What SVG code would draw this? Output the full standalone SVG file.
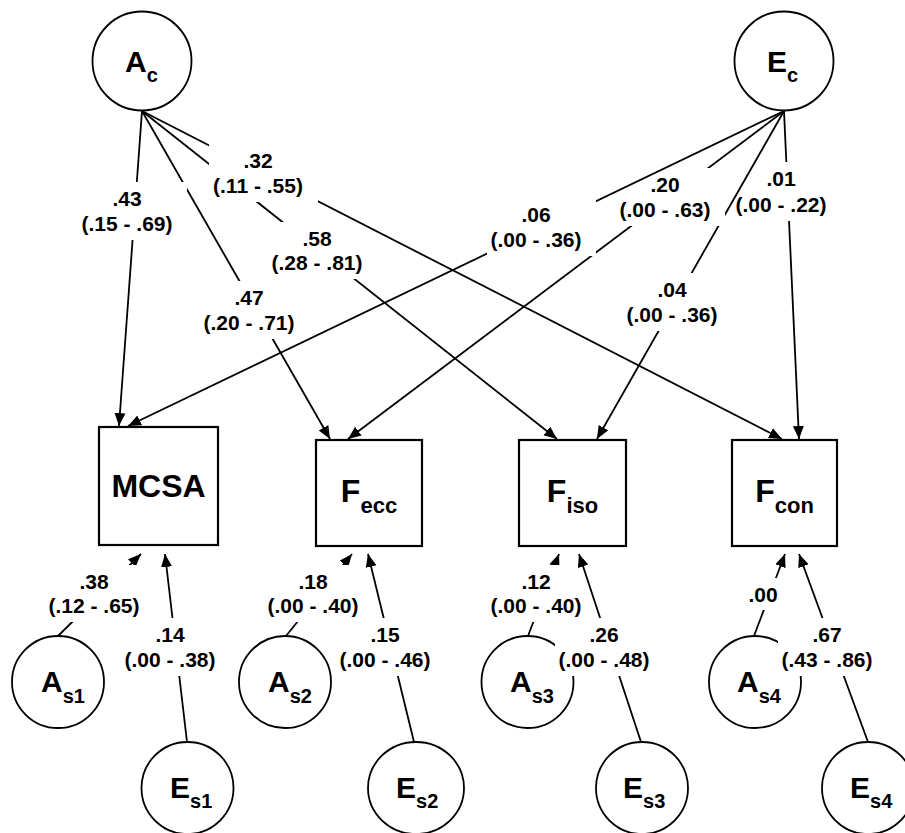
<svg xmlns="http://www.w3.org/2000/svg" width="905" height="833" viewBox="0 0 905 833">
<style>
.nd{fill:#fff;stroke:#000;stroke-width:1.8}
.bx{fill:#fff;stroke:#000;stroke-width:2.2}
.ln{fill:none;stroke:#000;stroke-width:1.8;marker-end:url(#ah)}
.lb{fill:#fff;stroke:none}
.t{font-family:"Liberation Sans",Arial,Helvetica,sans-serif;font-weight:bold;fill:#000}
.nt{font-size:30px}
.bt{font-size:32px}
.et{font-size:21px;text-anchor:middle}
.s{font-size:20px}
.bs{font-size:22px}
</style>
<defs>
<marker id="ah" markerUnits="userSpaceOnUse" markerWidth="14" markerHeight="12" refX="13" refY="5.5" orient="auto"><path d="M0,0 L13,5.5 L0,11 z" fill="#000"/></marker>
</defs>
<rect width="905" height="833" fill="#fff"/>
<g id="Ac"><circle class="nd" cx="142" cy="61" r="49.5"/><text class="t nt" x="125" y="72">A<tspan class="s" dy="10">c</tspan></text></g>
<g id="Ec"><circle class="nd" cx="784" cy="61" r="49.5"/><text class="t nt" x="767" y="72">E<tspan class="s" dy="10">c</tspan></text></g>
<g id="MCSA"><rect class="bx" x="99" y="427" width="119" height="118"/><text class="t bt" x="158.5" y="497" text-anchor="middle">MCSA</text></g>
<g id="Fecc"><rect class="bx" x="316" y="440" width="106" height="106"/><text class="t bt" x="369" y="502" text-anchor="middle">F<tspan class="bs" dy="11">ecc</tspan></text></g>
<g id="Fiso"><rect class="bx" x="519" y="440" width="107" height="106"/><text class="t bt" x="572.5" y="502" text-anchor="middle">F<tspan class="bs" dy="11">iso</tspan></text></g>
<g id="Fcon"><rect class="bx" x="732" y="440" width="105" height="106"/><text class="t bt" x="784.5" y="502" text-anchor="middle">F<tspan class="bs" dy="11">con</tspan></text></g>
<g id="As1"><circle class="nd" cx="58" cy="682" r="46"/><text class="t nt" x="41" y="692">A<tspan class="s" dy="11">s1</tspan></text></g>
<g id="Es1"><circle class="nd" cx="187.5" cy="788" r="46"/><text class="t nt" x="170" y="798">E<tspan class="s" dy="10">s1</tspan></text></g>
<g id="As2"><circle class="nd" cx="285" cy="682" r="46"/><text class="t nt" x="268" y="692">A<tspan class="s" dy="11">s2</tspan></text></g>
<g id="Es2"><ellipse class="nd" cx="416" cy="788" rx="48" ry="46"/><text class="t nt" x="396" y="798">E<tspan class="s" dy="10">s2</tspan></text></g>
<g id="As3"><circle class="nd" cx="527.5" cy="682" r="46"/><text class="t nt" x="510" y="692">A<tspan class="s" dy="11">s3</tspan></text></g>
<g id="Es3"><circle class="nd" cx="642" cy="788" r="46"/><text class="t nt" x="623" y="798">E<tspan class="s" dy="10">s3</tspan></text></g>
<g id="As4"><circle class="nd" cx="755" cy="682" r="46"/><text class="t nt" x="737" y="692">A<tspan class="s" dy="11">s4</tspan></text></g>
<g id="Es4"><circle class="nd" cx="868" cy="788" r="46"/><text class="t nt" x="850" y="798">E<tspan class="s" dy="10">s4</tspan></text></g>
<g id="connectors">
<line class="ln" x1="142" y1="111" x2="330" y2="439"/>
<rect class="lb" x="200" y="281" width="109" height="58"/>
<text class="t et" x="249" y="305">.47</text><text class="t et" x="249" y="330">(.20 - .71)</text>
<line class="ln" x1="142" y1="111" x2="119" y2="426"/>
<rect class="lb" x="78" y="182" width="109" height="58"/>
<text class="t et" x="127" y="206">.43</text><text class="t et" x="127" y="231">(.15 - .69)</text>
<line class="ln" x1="142" y1="111" x2="557" y2="439"/>
<rect class="lb" x="268" y="222" width="109" height="57"/>
<text class="t et" x="317" y="246">.58</text><text class="t et" x="317" y="270">(.28 - .81)</text>
<line class="ln" x1="142" y1="111" x2="782" y2="439"/>
<rect class="lb" x="209" y="144" width="109" height="58"/>
<text class="t et" x="258" y="168">.32</text><text class="t et" x="258" y="193">(.11 - .55)</text>
<line class="ln" x1="784" y1="111" x2="799" y2="439"/>
<rect class="lb" x="732" y="162" width="109" height="59"/>
<text class="t et" x="781" y="186">.01</text><text class="t et" x="781" y="212">(.00 - .22)</text>
<line class="ln" x1="784" y1="111" x2="597" y2="439"/>
<rect class="lb" x="623" y="273" width="109" height="58"/>
<text class="t et" x="672" y="297">.04</text><text class="t et" x="672" y="322">(.00 - .36)</text>
<line class="ln" x1="784" y1="111" x2="348" y2="439"/>
<rect class="lb" x="616" y="168" width="109" height="58"/>
<text class="t et" x="665" y="192">.20</text><text class="t et" x="665" y="217">(.00 - .63)</text>
<line class="ln" x1="784" y1="111" x2="128" y2="426"/>
<rect class="lb" x="487" y="198" width="109" height="58"/>
<text class="t et" x="536" y="222">.06</text><text class="t et" x="536" y="247">(.00 - .36)</text>
<line class="ln" x1="58" y1="636" x2="141" y2="554"/>
<rect class="lb" x="45" y="565" width="109" height="57"/>
<text class="t et" x="94" y="589">.38</text><text class="t et" x="94" y="613">(.12 - .65)</text>
<line class="ln" x1="187" y1="742" x2="165" y2="554"/>
<rect class="lb" x="121" y="618" width="109" height="58"/>
<text class="t et" x="170" y="642">.14</text><text class="t et" x="170" y="667">(.00 - .38)</text>
<line class="ln" x1="286" y1="636" x2="352" y2="554"/>
<rect class="lb" x="264" y="565" width="109" height="57"/>
<text class="t et" x="313" y="589">.18</text><text class="t et" x="313" y="613">(.00 - .40)</text>
<line class="ln" x1="414" y1="742" x2="368" y2="554"/>
<rect class="lb" x="336" y="618" width="109" height="58"/>
<text class="t et" x="385" y="642">.15</text><text class="t et" x="385" y="667">(.00 - .46)</text>
<line class="ln" x1="528" y1="636" x2="559" y2="554"/>
<rect class="lb" x="487" y="565" width="109" height="57"/>
<text class="t et" x="536" y="589">.12</text><text class="t et" x="536" y="613">(.00 - .40)</text>
<line class="ln" x1="641" y1="742" x2="579" y2="554"/>
<rect class="lb" x="555" y="618" width="109" height="58"/>
<text class="t et" x="604" y="642">.26</text><text class="t et" x="604" y="667">(.00 - .48)</text>
<line class="ln" x1="754" y1="636" x2="785" y2="554"/>
<rect class="lb" x="745" y="578" width="47" height="32"/>
<text class="t et" x="763" y="602">.00</text>
<line class="ln" x1="868" y1="742" x2="799" y2="554"/>
<rect class="lb" x="778" y="618" width="109" height="58"/>
<text class="t et" x="827" y="642">.67</text><text class="t et" x="827" y="667">(.43 - .86)</text>
</g>
</svg>
